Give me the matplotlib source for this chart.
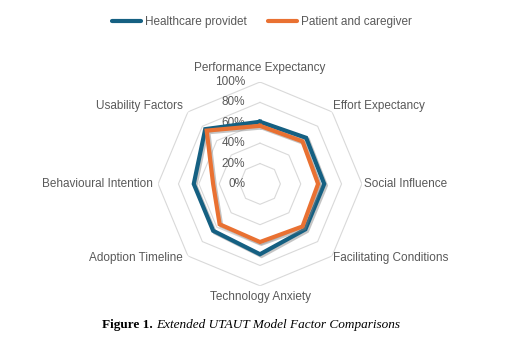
import numpy as np
import matplotlib
matplotlib.use('Agg')
import matplotlib.pyplot as plt
import matplotlib.patheffects as pe

###############################################################################
# Data
###############################################################################
categories = [
    'Performance Expectancy', 'Effort Expectancy', 'Social Influence',
    'Facilitating Conditions', 'Technology Anxiety', 'Adoption Timeline',
    'Behavioural Intention', 'Usability Factors'
]
series_names = ['Healthcare providet', 'Patient and caregiver']
provider = [0.61, 0.64, 0.63, 0.63, 0.69, 0.65, 0.65, 0.76]
patient = [0.57, 0.59, 0.57, 0.59, 0.57, 0.56, 0.46, 0.74]
ring_values = [0.0, 0.2, 0.4, 0.6, 0.8, 1.0]
ring_labels = ['0%', '20%', '40%', '60%', '80%', '100%']

(BLUE, ORANGE, GRID, TXT) = ('#156082', '#E97132', '#D9D9D9', '#595959')
FONT = 'Liberation Sans'
FS = 8.5

###############################################################################
# Figure
###############################################################################
fig = plt.figure(figsize=(5.2, 3.49), dpi=100)
ax = fig.add_axes([0.304, 0.1805, 0.392, 0.585], projection='polar')
ax.set_theta_zero_location('N')
ax.set_theta_direction(-1)
ax.set_ylim(0, 1)
ax.grid(False)
ax.spines['polar'].set_visible(False)
ax.set_xticks([])
ax.set_yticks([])

n = len(categories)
angles = np.linspace(0, 2 * np.pi, n, endpoint=False)
closed = np.append(angles, angles[0])

# octagon grid
for r in ring_values[1:]:
    ax.plot(closed, [r] * (n + 1), color=GRID, lw=0.8, zorder=1)

# ring labels, left of the top spoke
for r, lab in zip(ring_values, ring_labels):
    ax.annotate(lab, xy=(0, r), xytext=(-10.5, 0), textcoords='offset points',
                ha='right', va='center', fontsize=FS, color=TXT,
                family=FONT, annotation_clip=False)

# category labels
offsets = [(0, 10, 'center'), (1, 4, 'left'), (1.5, 0, 'left'),
           (1, -1.5, 'left'), (0, -8, 'center'), (-3.5, -1.5, 'right'),
           (-3.5, 0, 'right'), (-3.5, 4, 'right')]
for ang, lab, (dx, dy, ha) in zip(angles, categories, offsets):
    ax.annotate(lab, xy=(ang, 1.0), xytext=(dx, dy),
                textcoords='offset points', ha=ha, va='center',
                fontsize=FS, color=TXT, family=FONT, annotation_clip=False)

# series
shadow = [pe.SimpleLineShadow(offset=(1.2, -1.2), shadow_color='#7f7f7f',
                              alpha=0.45), pe.Normal()]
lines = []
for vals, col in zip([provider, patient], [BLUE, ORANGE]):
    (ln,) = ax.plot(closed, np.append(vals, vals[0]), color=col, lw=3,
                    solid_joinstyle='miter', zorder=3, path_effects=shadow)
    lines.append(ln)

leg = fig.legend(lines, series_names, loc='upper center',
                 bbox_to_anchor=(0.503, 0.985), ncol=2, frameon=False,
                 handlelength=2.5, handletextpad=0.3, columnspacing=1.8,
                 prop={'family': FONT, 'size': FS})
for t in leg.get_texts():
    t.set_color(TXT)
for h in leg.legend_handles:
    h.set_path_effects([])
    h.set_solid_capstyle('round')

# caption: bold part then italic part
renderer = fig.canvas.get_renderer()
x0, ycap = 102 / 520, 1 - 325 / 349
t1 = fig.text(x0, ycap, 'Figure 1.', fontsize=9.5, weight='bold',
              family='Liberation Serif', ha='left', va='center', color='black')
bb = t1.get_window_extent(renderer)
fig.text(x0 + (bb.width + 3) / fig.bbox.width, ycap,
         'Extended UTAUT Model Factor Comparisons', fontsize=9.5,
         style='italic', family='Liberation Serif', ha='left', va='center',
         color='black')

fig.savefig('out.png', dpi=100)
